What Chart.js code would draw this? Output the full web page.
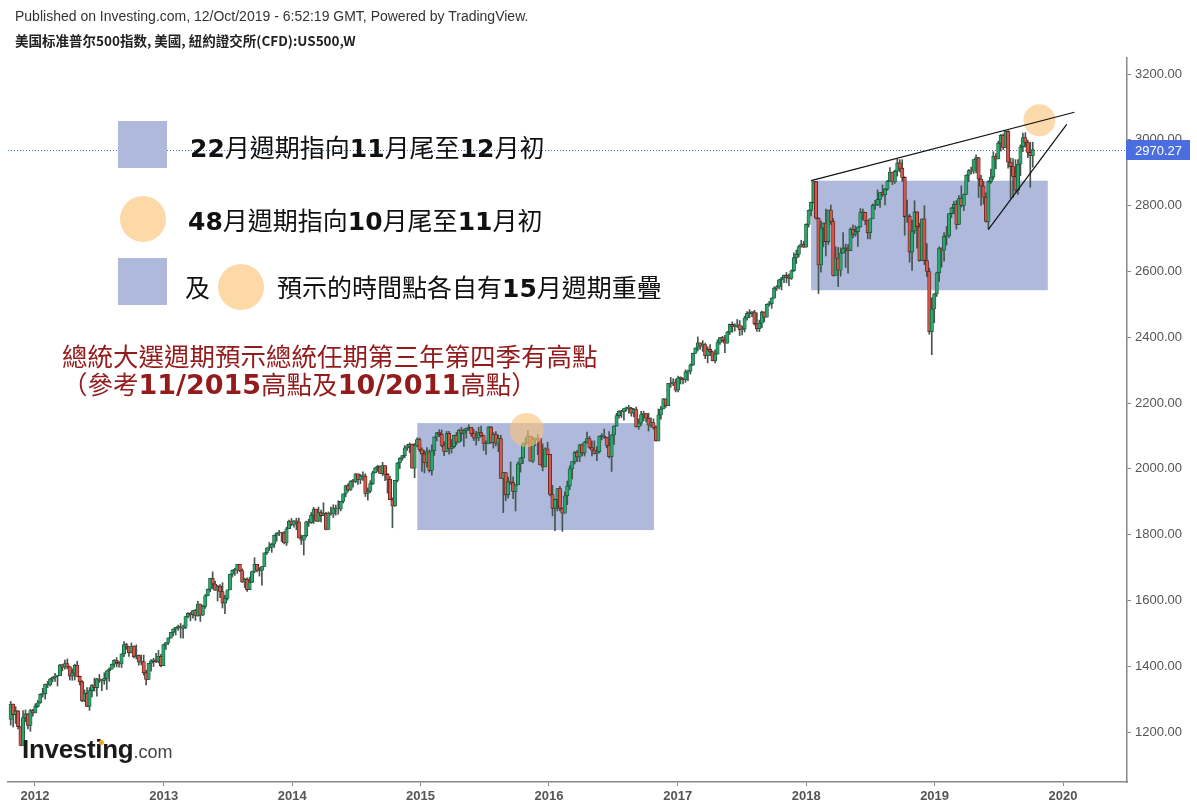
<!DOCTYPE html>
<html>
<head>
<meta charset="utf-8">
<title>US500 weekly</title>
<script src="https://cdn.jsdelivr.net/npm/chart.js@4.4.1/dist/chart.umd.min.js"></script>
<style>
  html, body { margin: 0; padding: 0; background: #fff; }
  #wrap { position: relative; width: 1197px; height: 811px; overflow: hidden; }
  #chart { position: absolute; left: 0; top: 0; }
  .t { position: absolute; white-space: nowrap; }
  .hdr1 { left: 15px; top: 8px; font: 14px "Liberation Sans", Arial, sans-serif; color: #333; }
  .hdr2 { left: 15px; top: 32px; font: bold 13.5px "Noto Sans CJK SC", sans-serif; color: #222; line-height: 16px; }
  .leg { font-family: "Noto Sans CJK TC", sans-serif; font-size: 25px; color: #111; height: 36px; line-height: 36px; }
  .leg b { font-family: "DejaVu Sans", sans-serif; font-weight: bold; }
  .sq { position: absolute; background: #aeb9dc; }
  .dot { position: absolute; background: #fdd9a8; border-radius: 50%; }
  .note { left: 62px; font-family: "Noto Sans CJK TC", sans-serif; font-size: 25.5px; color: #941b1b; height: 30px; line-height: 30px; }
  .note b { font-family: "DejaVu Sans", sans-serif; font-weight: bold; font-size: 27px; }
  .logo { left: 22px; top: 734px; font: bold 26px "Liberation Sans", Arial, sans-serif; color: #1a1a1a; letter-spacing: -0.3px; line-height: 30px; }
  .logo span { font-weight: normal; font-size: 18px; color: #444; letter-spacing: 0; }
  .logodot { position: absolute; left: 99px; top: 740px; width: 5px; height: 5px; border-radius: 50%; background: #f5a623; }
</style>
</head>
<body>
<div id="wrap">
  <canvas id="chart" width="1197" height="811"></canvas>

  <div class="t hdr1">Published on Investing.com, 12/Oct/2019 - 6:52:19 GMT, Powered by TradingView.</div>
  <div class="t hdr2">美国标准普尔500指数, 美國, 紐約證交所(CFD):US500,W</div>

  <div class="sq" style="left:118px;top:121px;width:49px;height:47px;"></div>
  <div class="t leg" style="left:190px;top:128px;"><b>22</b>月週期指向<b>11</b>月尾至<b>12</b>月初</div>

  <div class="dot" style="left:120px;top:196px;width:46px;height:46px;"></div>
  <div class="t leg" style="left:188px;top:201px;"><b>48</b>月週期指向<b>10</b>月尾至<b>11</b>月初</div>

  <div class="sq" style="left:118px;top:258px;width:49px;height:47px;"></div>
  <div class="t leg" style="left:185px;top:268px;">及</div>
  <div class="dot" style="left:218px;top:264px;width:46px;height:46px;"></div>
  <div class="t leg" style="left:277px;top:268px;">預示的時間點各自有<b>15</b>月週期重疊</div>

  <div class="t note" style="top:340px;">總統大選週期預示總統任期第三年第四季有高點</div>
  <div class="t note" style="top:368px;">（參考<b>11/2015</b>高點及<b>10/2011</b>高點）</div>

  <div class="t logo">Investing<span>.com</span></div>
  <div class="logodot"></div>
</div>

<script>
// US500 weekly candles, first bar = week of 24 Oct 2011, last bar = week of 7 Oct 2019
const firstWeek = Date.UTC(2011, 9, 24);
const firstOpen = 1238;

const closes = [
  // 2011
  1285, 1253, 1264, 1216, 1159, 1244, 1255, 1220, 1265, 1258,
  // 2012
  1278, 1289, 1315, 1316, 1345, 1343, 1361, 1366, 1370, 1371, 1404, 1397, 1408,
  1398, 1370, 1379, 1403, 1369, 1353, 1295, 1318, 1278, 1326, 1343, 1335, 1362,
  1355, 1357, 1363, 1386, 1391, 1406, 1418, 1411, 1407, 1438, 1466, 1460, 1441,
  1461, 1429, 1433, 1412, 1414, 1380, 1360, 1409, 1416, 1418, 1414, 1430, 1402,
  // 2013
  1466, 1472, 1486, 1503, 1513, 1518, 1520, 1516, 1518, 1551, 1561, 1557, 1569,
  1553, 1589, 1555, 1582, 1614, 1634, 1667, 1650, 1631, 1643, 1627, 1592, 1606,
  1632, 1680, 1692, 1692, 1710, 1691, 1656, 1664, 1633, 1655, 1688, 1710, 1692,
  1691, 1703, 1745, 1760, 1762, 1771, 1798, 1805, 1806, 1805, 1775, 1818, 1841,
  // 2014
  1831, 1842, 1839, 1790, 1783, 1797, 1839, 1836, 1859, 1878, 1841, 1867, 1858,
  1865, 1816, 1865, 1863, 1881, 1878, 1878, 1901, 1924, 1949, 1936, 1963, 1961,
  1985, 1968, 1978, 1978, 1925, 1932, 1955, 1988, 2003, 2008, 1986, 2010, 1983,
  1968, 1906, 1887, 1965, 2018, 2032, 2040, 2064, 2068, 2075, 2002, 2071, 2089,
  // 2015
  2058, 2045, 2019, 2052, 1995, 2055, 2097, 2110, 2105, 2071, 2053, 2108, 2061,
  2067, 2102, 2081, 2118, 2108, 2116, 2123, 2126, 2107, 2093, 2094, 2110, 2101,
  2077, 2077, 2127, 2080, 2104, 2078, 2092, 1971, 1989, 1921, 1961, 1958, 1931,
  1951, 2015, 2033, 2075, 2079, 2099, 2023, 2089, 2090, 2092, 2012, 2006, 2061, 2044,
  // 2016
  1922, 1880, 1907, 1940, 1880, 1865, 1918, 1948, 2000, 2022, 2050, 2036, 2073,
  2048, 2081, 2092, 2065, 2057, 2047, 2052, 2099, 2099, 2096, 2071, 2037, 2103,
  2130, 2162, 2175, 2174, 2183, 2184, 2184, 2169, 2180, 2128, 2139, 2165, 2168,
  2154, 2133, 2141, 2126, 2085, 2164, 2182, 2213, 2192, 2260, 2258, 2264, 2239,
  // 2017
  2277, 2275, 2271, 2295, 2297, 2316, 2351, 2367, 2383, 2373, 2378, 2344, 2363,
  2356, 2329, 2349, 2384, 2399, 2391, 2382, 2416, 2439, 2432, 2433, 2438, 2423,
  2425, 2459, 2473, 2472, 2477, 2441, 2426, 2443, 2477, 2461, 2500, 2502, 2519,
  2549, 2553, 2575, 2581, 2588, 2582, 2579, 2602, 2642, 2652, 2676, 2683, 2674,
  // 2018
  2743, 2786, 2810, 2873, 2762, 2620, 2732, 2747, 2691, 2787, 2752, 2588, 2641,
  2604, 2656, 2670, 2670, 2663, 2728, 2713, 2721, 2735, 2779, 2780, 2755, 2718,
  2760, 2801, 2802, 2819, 2840, 2833, 2850, 2875, 2902, 2872, 2905, 2930, 2914,
  2886, 2767, 2768, 2659, 2723, 2781, 2736, 2633, 2760, 2633, 2600, 2417, 2486,
  // 2019
  2532, 2596, 2671, 2665, 2707, 2708, 2776, 2793, 2804, 2743, 2822, 2801, 2834,
  2893, 2907, 2905, 2940, 2946, 2881, 2860, 2826, 2752, 2873, 2887, 2950, 2942,
  2990, 3014, 2977, 3026, 2932, 2919, 2889, 2847, 2926, 2979, 3007, 2992, 2962,
  2952, 2970.27
];

const highs = [
  1293, 1285, 1277, 1265, 1216, 1265, 1267, 1256, 1269, 1269,
  1286, 1296, 1316, 1333, 1346, 1354, 1363, 1368, 1378, 1372, 1406, 1406, 1419,
  1422, 1400, 1392, 1406, 1415, 1370, 1356, 1328, 1335, 1335, 1344, 1364, 1363,
  1375, 1360, 1380, 1387, 1395, 1407, 1420, 1426, 1414, 1438, 1475, 1470, 1460,
  1471, 1462, 1465, 1434, 1434, 1434, 1388, 1409, 1420, 1424, 1439, 1448, 1436,
  1467, 1472, 1486, 1503, 1514, 1518, 1525, 1530, 1525, 1552, 1563, 1564, 1570,
  1573, 1597, 1588, 1585, 1618, 1635, 1667, 1687, 1659, 1646, 1648, 1654, 1616,
  1632, 1680, 1693, 1698, 1710, 1709, 1696, 1668, 1669, 1671, 1689, 1730, 1710,
  1700, 1704, 1745, 1760, 1776, 1774, 1799, 1806, 1813, 1806, 1809, 1823, 1844,
  1849, 1843, 1850, 1850, 1799, 1798, 1841, 1847, 1867, 1883, 1878, 1884, 1875,
  1897, 1868, 1869, 1884, 1891, 1890, 1903, 1901, 1924, 1950, 1955, 1964, 1968,
  1986, 1985, 1983, 1991, 1985, 1942, 1964, 1993, 2005, 2011, 2009, 2020, 2007,
  1986, 1977, 1912, 1965, 2019, 2034, 2041, 2071, 2075, 2079, 2075, 2077, 2094,
  2094, 2064, 2056, 2065, 2058, 2073, 2097, 2110, 2119, 2118, 2083, 2114, 2114,
  2089, 2103, 2111, 2120, 2126, 2121, 2124, 2134, 2126, 2121, 2115, 2127, 2130,
  2102, 2085, 2129, 2129, 2110, 2113, 2103, 2102, 1989, 1987, 1975, 2021, 1976,
  1952, 2021, 2034, 2080, 2094, 2116, 2100, 2097, 2094, 2104, 2090, 2076, 2064, 2081,
  2044, 1950, 1908, 1940, 1947, 1882, 1930, 1963, 2009, 2022, 2053, 2056, 2075,
  2076, 2083, 2112, 2099, 2085, 2085, 2068, 2100, 2107, 2121, 2094, 2113, 2104,
  2131, 2169, 2176, 2178, 2183, 2188, 2193, 2187, 2184, 2188, 2152, 2175, 2175,
  2169, 2169, 2155, 2152, 2131, 2182, 2190, 2214, 2213, 2260, 2278, 2274, 2273,
  2282, 2280, 2276, 2301, 2300, 2319, 2352, 2368, 2401, 2383, 2390, 2382, 2371,
  2378, 2358, 2362, 2392, 2400, 2403, 2406, 2418, 2440, 2447, 2441, 2454, 2451,
  2434, 2464, 2478, 2484, 2478, 2482, 2474, 2452, 2480, 2475, 2501, 2509, 2520,
  2553, 2557, 2576, 2582, 2589, 2597, 2592, 2605, 2657, 2665, 2679, 2695, 2692,
  2745, 2787, 2811, 2873, 2873, 2763, 2754, 2748, 2790, 2787, 2802, 2761, 2675,
  2673, 2672, 2718, 2683, 2682, 2733, 2742, 2739, 2736, 2791, 2790, 2775, 2754,
  2760, 2805, 2816, 2848, 2841, 2863, 2853, 2877, 2916, 2901, 2908, 2941, 2940,
  2940, 2888, 2817, 2774, 2756, 2815, 2781, 2747, 2760, 2800, 2685, 2610, 2520,
  2533, 2598, 2675, 2672, 2718, 2737, 2776, 2795, 2813, 2816, 2831, 2860, 2836,
  2894, 2910, 2917, 2940, 2955, 2932, 2892, 2874, 2839, 2876, 2911, 2964, 2958,
  2996, 3017, 3018, 3028, 3028, 2945, 2943, 2940, 2940, 2985, 3021, 3022, 2999,
  2993, 2993
];

const lows = [
  1221, 1215, 1226, 1209, 1158, 1159, 1231, 1209, 1202, 1248,
  1258, 1275, 1287, 1306, 1300, 1335, 1340, 1352, 1354, 1340, 1371, 1386, 1391,
  1392, 1358, 1357, 1358, 1368, 1343, 1292, 1292, 1277, 1266, 1307, 1324, 1309,
  1350, 1326, 1345, 1329, 1354, 1391, 1397, 1398, 1397, 1396, 1429, 1451, 1430,
  1440, 1425, 1422, 1403, 1404, 1373, 1343, 1359, 1385, 1399, 1411, 1410, 1398,
  1402, 1451, 1466, 1485, 1492, 1495, 1509, 1486, 1485, 1514, 1547, 1538, 1546,
  1539, 1552, 1536, 1554, 1576, 1614, 1626, 1636, 1630, 1598, 1608, 1577, 1560,
  1601, 1634, 1671, 1676, 1682, 1687, 1654, 1639, 1627, 1633, 1656, 1684, 1687,
  1674, 1646, 1703, 1740, 1752, 1746, 1761, 1780, 1797, 1779, 1772, 1767, 1819,
  1827, 1823, 1815, 1790, 1770, 1738, 1792, 1825, 1834, 1834, 1840, 1839, 1839,
  1858, 1814, 1816, 1859, 1852, 1859, 1862, 1872, 1896, 1915, 1930, 1934, 1944,
  1958, 1953, 1955, 1965, 1916, 1905, 1928, 1952, 1988, 1992, 1985, 1979, 1964,
  1926, 1906, 1821, 1886, 1960, 2001, 2026, 2034, 2056, 2049, 2002, 1973, 2067,
  2052, 1992, 1988, 2005, 1990, 1981, 2041, 2085, 2098, 2067, 2040, 2052, 2045,
  2048, 2064, 2073, 2080, 2085, 2068, 2093, 2117, 2099, 2086, 2072, 2085, 2097,
  2056, 2044, 2077, 2077, 2063, 2070, 2052, 1971, 1867, 1903, 1911, 1953, 1909,
  1872, 1951, 1990, 2016, 2069, 2076, 2023, 2019, 2070, 2043, 2012, 1994, 2006, 2044,
  1918, 1857, 1812, 1872, 1872, 1810, 1865, 1891, 1937, 1969, 2015, 2022, 2022,
  2039, 2039, 2078, 2062, 2039, 2045, 2025, 2048, 2088, 2093, 2064, 2033, 1992,
  2074, 2131, 2154, 2156, 2148, 2176, 2169, 2160, 2158, 2127, 2120, 2132, 2145,
  2142, 2115, 2127, 2120, 2084, 2092, 2151, 2186, 2187, 2192, 2248, 2253, 2234,
  2234, 2258, 2258, 2263, 2268, 2288, 2314, 2351, 2358, 2363, 2357, 2335, 2322,
  2344, 2328, 2322, 2350, 2378, 2386, 2353, 2382, 2409, 2415, 2419, 2430, 2405,
  2407, 2416, 2452, 2459, 2463, 2437, 2418, 2417, 2429, 2447, 2468, 2495, 2488,
  2521, 2542, 2547, 2544, 2566, 2566, 2557, 2576, 2600, 2624, 2644, 2674, 2673,
  2683, 2735, 2769, 2808, 2759, 2533, 2598, 2675, 2647, 2682, 2743, 2586, 2594,
  2554, 2586, 2664, 2612, 2595, 2663, 2702, 2707, 2676, 2736, 2756, 2742, 2699,
  2699, 2760, 2789, 2800, 2795, 2828, 2802, 2847, 2874, 2864, 2868, 2890, 2903,
  2874, 2710, 2749, 2628, 2603, 2715, 2671, 2631, 2649, 2621, 2584, 2409, 2347,
  2444, 2524, 2570, 2613, 2631, 2680, 2703, 2764, 2775, 2729, 2742, 2796, 2785,
  2848, 2873, 2897, 2898, 2900, 2825, 2801, 2805, 2750, 2728, 2868, 2880, 2912,
  2943, 2966, 2971, 2977, 2914, 2822, 2825, 2839, 2834, 2891, 2964, 2978, 2946,
  2856, 2917
];

const yearLabels = ['2012', '2013', '2014', '2015', '2016', '2017', '2018', '2019', '2020'];
const priceTicks = [1200, 1400, 1600, 1800, 2000, 2200, 2400, 2600, 2800, 3000, 3200];
const lastPrice = 2970.27;

// drawings on the chart, x in weeks from the first bar
const zones = [
  { from: 165.1, to: 261.2, lo: 1814, hi: 2139 },
  { from: 325.0, to: 421.1, lo: 2543, hi: 2876 }
];
const cycleMarks = [
  { x: 209.5, y: 2118, r: 17 },
  { x: 417.7, y: 3060, r: 16 }
];
const trendLines = [
  { x1: 325.0, y1: 2876, x2: 431.9, y2: 3084 },
  { x1: 397.0, y1: 2728, x2: 428.8, y2: 3047 }
];

const WEEK = 7 * 864e5;
const opens = closes.map((c, i) => i ? closes[i - 1] : firstOpen);
const up = closes.map((c, i) => c >= opens[i]);
const bodyData = closes.map((c, i) => ({ x: i, y: [opens[i], c] }));
const wickData = closes.map((c, i) => ({
  x: i,
  y: [Math.min(lows[i], opens[i], c), Math.max(highs[i], opens[i], c)]
}));
const yearPos = yearLabels.map(y => (Date.UTC(+y, 0, 1) - firstWeek) / WEEK);

const overlay = {
  id: 'overlay',
  beforeDatasetsDraw(chart) {
    const { ctx, chartArea: a, scales: { x, y } } = chart;
    ctx.save();
    ctx.fillStyle = '#aeb9dc';
    zones.forEach(z => {
      const l = x.getPixelForValue(z.from), r = x.getPixelForValue(z.to);
      const t = y.getPixelForValue(z.hi), b = y.getPixelForValue(z.lo);
      ctx.fillRect(l, t, r - l, b - t);
    });
    const py = Math.round(y.getPixelForValue(lastPrice)) + 0.5;
    ctx.strokeStyle = '#4a6ee0';
    ctx.lineWidth = 1;
    ctx.setLineDash([1, 2]);
    ctx.beginPath();
    ctx.moveTo(a.left, py);
    ctx.lineTo(a.right, py);
    ctx.stroke();
    ctx.restore();
  },
  afterDatasetsDraw(chart) {
    const { ctx, scales: { x, y } } = chart;
    ctx.save();
    ctx.fillStyle = 'rgba(252, 196, 121, 0.62)';
    cycleMarks.forEach(m => {
      ctx.beginPath();
      ctx.arc(x.getPixelForValue(m.x), y.getPixelForValue(m.y), m.r, 0, Math.PI * 2);
      ctx.fill();
    });
    ctx.strokeStyle = '#111';
    ctx.lineWidth = 1.2;
    trendLines.forEach(l => {
      ctx.beginPath();
      ctx.moveTo(x.getPixelForValue(l.x1), y.getPixelForValue(l.y1));
      ctx.lineTo(x.getPixelForValue(l.x2), y.getPixelForValue(l.y2));
      ctx.stroke();
    });
    ctx.restore();
  },
  afterDraw(chart) {
    const { ctx, chartArea: a, scales: { y } } = chart;
    const py = Math.round(y.getPixelForValue(lastPrice));
    ctx.save();
    ctx.fillStyle = '#4a6ee0';
    ctx.fillRect(a.right - 1, py - 10, 64, 20);
    ctx.fillStyle = '#fff';
    ctx.font = '13px "Liberation Sans", Arial, sans-serif';
    ctx.textBaseline = 'middle';
    ctx.fillText(lastPrice.toFixed(2), a.right + 8, py + 1);
    ctx.restore();
  }
};

Chart.defaults.font.family = '"Liberation Sans", Arial, sans-serif';

new Chart(document.getElementById('chart'), {
  type: 'bar',
  data: {
    datasets: [
      {
        data: bodyData,
        backgroundColor: up.map(u => u ? '#2fa56e' : '#d4574c'),
        borderColor: up.map(u => u ? '#16573a' : '#5e1c17'),
        borderWidth: 0.8,
        borderSkipped: false,
        barThickness: 3.4,
        minBarLength: 1,
        grouped: false,
        order: 1
      },
      {
        data: wickData,
        backgroundColor: '#46554d',
        barThickness: 1,
        grouped: false,
        order: 2
      }
    ]
  },
  options: {
    responsive: false,
    animation: false,
    events: [],
    layout: { padding: { left: 8, top: 58, right: 0, bottom: 0 } },
    plugins: { legend: { display: false }, tooltip: { enabled: false } },
    scales: {
      x: {
        type: 'linear',
        offset: false,
        min: -1.1,
        max: 453.27,
        afterBuildTicks: s => { s.ticks = yearPos.map(v => ({ value: v })); },
        afterFit: s => { s.height = 29; },
        ticks: {
          autoSkip: false,
          maxRotation: 0,
          padding: 3,
          color: '#555',
          font: { size: 13, weight: 'bold' },
          callback: (v, i) => yearLabels[i]
        },
        grid: { display: true, drawOnChartArea: false, offset: false, tickLength: 4, color: '#888' },
        border: { display: true, color: '#888', width: 1.5 }
      },
      y: {
        position: 'right',
        min: 1048,
        max: 3249,
        afterBuildTicks: s => { s.ticks = priceTicks.map(v => ({ value: v })); },
        afterFit: s => { s.width = 70; },
        ticks: {
          padding: 4,
          color: '#555',
          font: { size: 13 },
          callback: v => v.toFixed(2)
        },
        grid: { display: true, drawOnChartArea: false, tickLength: 4, color: '#888' },
        border: { display: true, color: '#888', width: 1.5 }
      }
    }
  },
  plugins: [overlay]
});
</script>
</body>
</html>
